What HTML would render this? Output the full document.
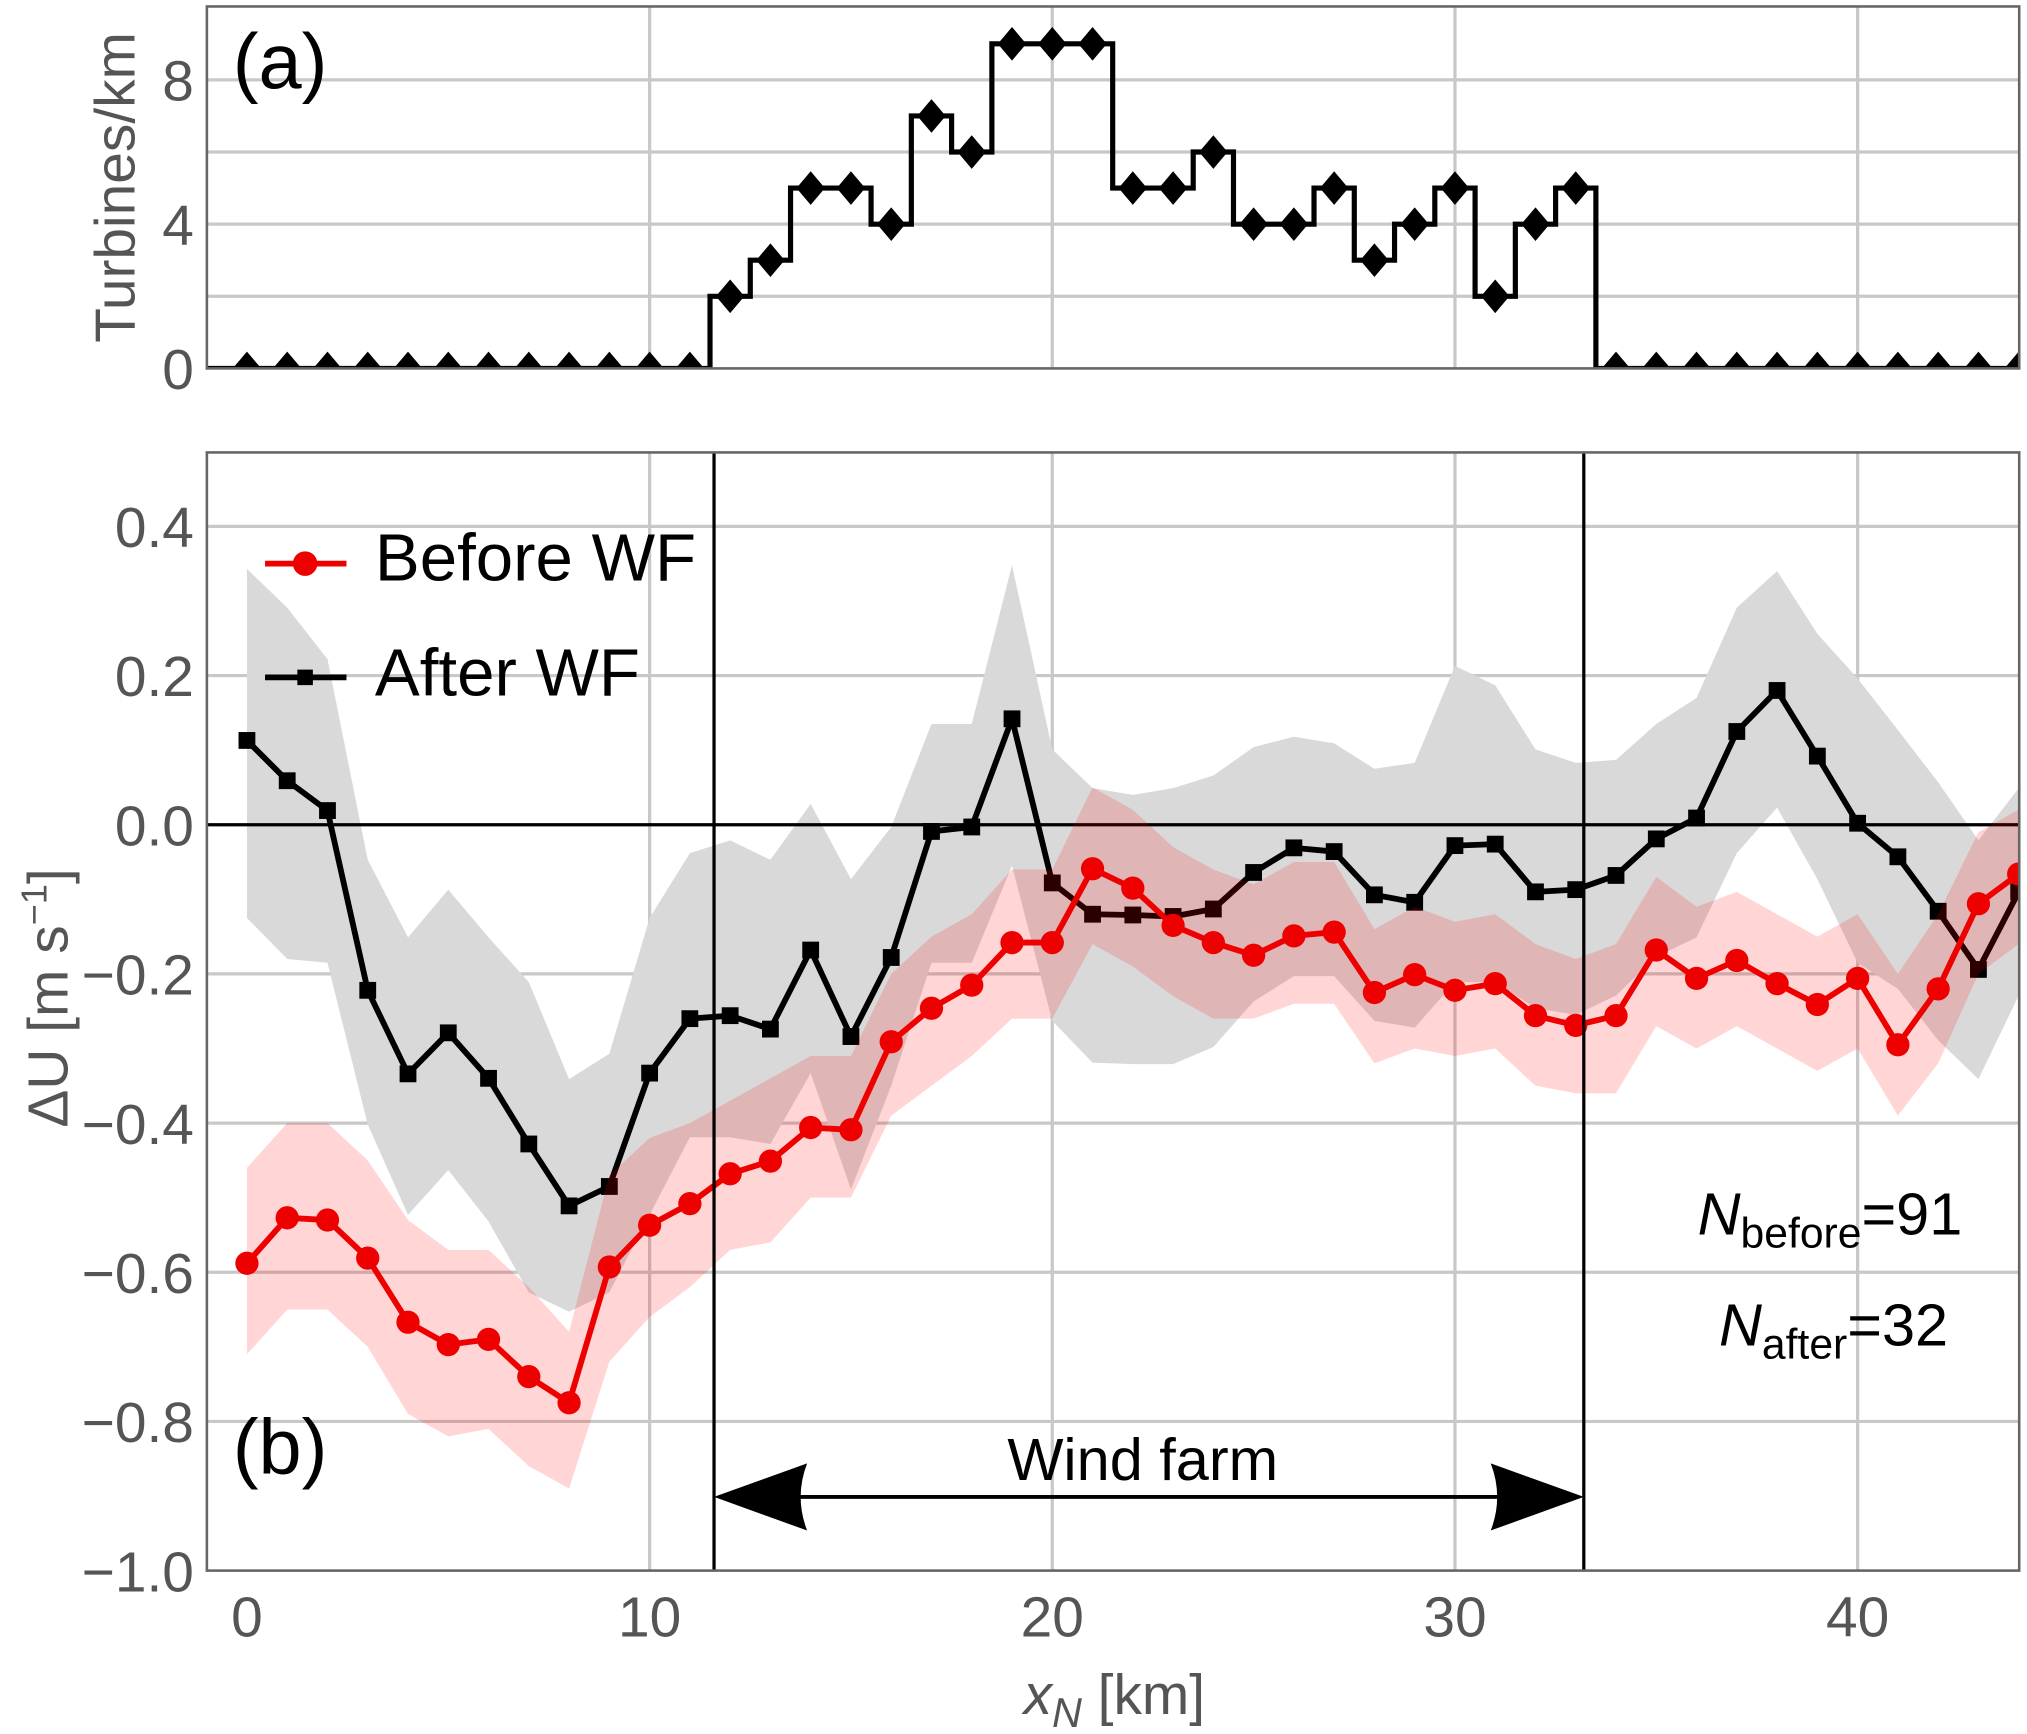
<!DOCTYPE html>
<html><head><meta charset="utf-8"><style>
html,body{margin:0;padding:0;background:#fff}
svg{display:block}
text{font-family:"Liberation Sans",Arial,sans-serif}
</style></head><body>
<svg id="chart" width="2027" height="1734" viewBox="0 0 1568 1341.4" xmlns="http://www.w3.org/2000/svg">
<g id="topPanel"></g>
<g id="botPanel"></g>
</svg>
<script>
const turbineX = [0,1,2,3,4,5,6,7,8,9,10,11,12,13,14,15,16,17,18,19,20,21,22,23,24,25,26,27,28,29,30,31,32,33,34,35,36,37,38,39,40,41,42,43,44];
const turbineDensity = [0,0,0,0,0,0,0,0,0,0,0,0,2,3,5,5,4,7,6,9,9,9,5,5,6,4,4,5,3,4,5,2,4,5,0,0,0,0,0,0,0,0,0,0,0];
const topYTicks = [0,4,8];
const xTicks = [0,10,20,30,40];
const botYTicks = [0.4,0.2,0.0,-0.2,-0.4,-0.6,-0.8,-1.0];
const botYTickLabels = ["0.4","0.2","0.0","\u22120.2","\u22120.4","\u22120.6","\u22120.8","\u22121.0"];
const afterWF = [0.113,0.059,0.019,-0.222,-0.334,-0.279,-0.340,-0.428,-0.511,-0.485,-0.333,-0.26,-0.256,-0.274,-0.168,-0.284,-0.178,-0.009,-0.003,0.142,-0.078,-0.12,-0.121,-0.123,-0.113,-0.064,-0.031,-0.036,-0.094,-0.104,-0.028,-0.026,-0.09,-0.087,-0.068,-0.019,0.009,0.125,0.18,0.092,0.002,-0.043,-0.116,-0.194,-0.09];
const afterUpper = [0.343,0.291,0.222,-0.047,-0.151,-0.087,-0.151,-0.211,-0.341,-0.307,-0.125,-0.038,-0.021,-0.047,0.028,-0.073,-0.003,0.135,0.135,0.348,0.101,0.049,0.040,0.049,0.066,0.104,0.118,0.109,0.075,0.083,0.213,0.187,0.101,0.083,0.087,0.135,0.170,0.291,0.340,0.256,0.196,0.127,0.057,-0.021,0.049];
const afterLower = [-0.125,-0.180,-0.185,-0.402,-0.523,-0.463,-0.532,-0.627,-0.653,-0.627,-0.523,-0.419,-0.419,-0.428,-0.333,-0.489,-0.350,-0.185,-0.185,-0.055,-0.263,-0.319,-0.321,-0.321,-0.298,-0.237,-0.203,-0.203,-0.263,-0.272,-0.211,-0.211,-0.246,-0.255,-0.229,-0.177,-0.151,-0.038,0.023,-0.073,-0.185,-0.220,-0.289,-0.341,-0.229];
const beforeWF = [-0.588,-0.527,-0.530,-0.581,-0.667,-0.697,-0.690,-0.740,-0.775,-0.593,-0.537,-0.508,-0.468,-0.451,-0.406,-0.409,-0.291,-0.246,-0.215,-0.158,-0.158,-0.059,-0.085,-0.135,-0.158,-0.175,-0.149,-0.144,-0.225,-0.201,-0.222,-0.213,-0.256,-0.269,-0.256,-0.168,-0.206,-0.182,-0.213,-0.241,-0.206,-0.295,-0.220,-0.106,-0.066];
const beforeUpper = [-0.46,-0.40,-0.40,-0.45,-0.53,-0.57,-0.57,-0.62,-0.68,-0.47,-0.42,-0.40,-0.37,-0.34,-0.31,-0.31,-0.20,-0.15,-0.12,-0.06,-0.06,0.05,0.02,-0.03,-0.06,-0.08,-0.05,-0.05,-0.14,-0.11,-0.13,-0.12,-0.16,-0.18,-0.16,-0.07,-0.11,-0.09,-0.12,-0.15,-0.12,-0.20,-0.12,-0.01,0.02];
const beforeLower = [-0.71,-0.65,-0.65,-0.70,-0.79,-0.82,-0.81,-0.86,-0.89,-0.72,-0.66,-0.62,-0.57,-0.56,-0.50,-0.50,-0.39,-0.35,-0.31,-0.26,-0.26,-0.16,-0.19,-0.23,-0.26,-0.26,-0.24,-0.24,-0.32,-0.30,-0.31,-0.30,-0.35,-0.36,-0.36,-0.27,-0.30,-0.27,-0.30,-0.33,-0.30,-0.39,-0.32,-0.20,-0.16];
const windFarmStart = 11.6, windFarmEnd = 33.2;

const NS='http://www.w3.org/2000/svg';
const L=160,R=1562;
const sx=x=>191+x*31.15;
const tyT=v=>285-v*27.9;
const tyB=v=>638-v*577;
function mk(parent,tag,attrs,txt){const e=document.createElementNS(NS,tag);for(const k in attrs)e.setAttribute(k,attrs[k]);if(txt!==undefined)e.textContent=txt;parent.appendChild(e);return e;}
const topG=document.getElementById('topPanel'), botG=document.getElementById('botPanel');
const defs=mk(document.getElementById('chart'),'defs',{});
const cp=mk(defs,'clipPath',{id:'cb'});mk(cp,'rect',{x:L,y:350,width:R-L,height:865});
const cpt=mk(defs,'clipPath',{id:'ct'});mk(cpt,'rect',{x:L,y:5,width:R-L,height:280});

for(const v of [2,4,6,8]){const g=mk(topG,'line',{x1:L,x2:R,y1:tyT(v),y2:tyT(v),stroke:'#c8c8c8','stroke-width':2.5});

}
for(const v of xTicks.slice(1)){const g=mk(topG,'line',{x1:sx(v),x2:sx(v),y1:5,y2:285,stroke:'#c8c8c8','stroke-width':2.5});

}
for(const v of topYTicks){const t=mk(topG,'text',{x:150,y:tyT(v)+16,'text-anchor':'end','font-size':44,fill:'#555'},String(v));

}
const yl=mk(topG,'text',{x:0,y:0,transform:'translate(104,145) rotate(-90)','text-anchor':'middle','font-size':44,fill:'#555'},'Turbines/km');


let d='';const nT=turbineX.length;turbineX.forEach((x,i)=>{const a=sx(i===0?x-1:x-0.5),b=sx(i===nT-1?x+1:x+0.5),y=tyT(turbineDensity[i]);d+=(i?'L':'M')+a+','+y+'L'+b+','+y;});
const tg=mk(topG,'g',{'clip-path':'url(#ct)'});
const st=mk(tg,'path',{d:d,fill:'none',stroke:'#000','stroke-width':4});


turbineX.forEach((x,i)=>{const cx=sx(x),cy=tyT(turbineDensity[i]);
const m=mk(tg,'polygon',{points:`${cx},${cy-13} ${cx+11},${cy} ${cx},${cy+13} ${cx-11},${cy}`,fill:'#000'});

});
const fr1=mk(topG,'rect',{x:L,y:5,width:R-L,height:280,fill:'none',stroke:'#666','stroke-width':2});


const la=mk(topG,'text',{x:180,y:68,'font-size':60,fill:'#000'},'(a)');



botYTicks.forEach((v,i)=>{if(Math.abs(v)>1e-9&&v>-0.99){const g=mk(botG,'line',{x1:L,x2:R,y1:tyB(v),y2:tyB(v),stroke:'#c8c8c8','stroke-width':2.5});

}
const t=mk(botG,'text',{x:150,y:tyB(v)+16,'text-anchor':'end','font-size':44,fill:'#555'},botYTickLabels[i]);

});
for(const v of xTicks.slice(1)){const g=mk(botG,'line',{x1:sx(v),x2:sx(v),y1:350,y2:1215,stroke:'#c8c8c8','stroke-width':2.5});

}
for(const v of xTicks){const t=mk(botG,'text',{x:sx(v),y:1266,'text-anchor':'middle','font-size':44,fill:'#555'},String(v));

}
const xl=mk(botG,'text',{x:862,y:1326,'text-anchor':'middle','font-size':44,fill:'#555'});


mk(xl,'tspan',{'font-style':'italic'},'x');mk(xl,'tspan',{'font-style':'italic','font-size':32,dy:10},'N');mk(xl,'tspan',{dy:-10},' [km]');
const yl2=mk(botG,'text',{x:0,y:0,transform:'translate(52,772) rotate(-90)','text-anchor':'middle','font-size':44,fill:'#555'});


mk(yl2,'tspan',{},'\u0394U [m s');mk(yl2,'tspan',{'font-size':28,dy:-16},'\u22121');mk(yl2,'tspan',{dy:16},']');

const g=mk(botG,'g',{'clip-path':'url(#cb)'});
function band(up,lo,fill,name){let p='';turbineX.forEach((x,i)=>p+=(i?'L':'M')+sx(x)+','+tyB(up[i]));
for(let i=turbineX.length-1;i>=0;i--)p+='L'+sx(turbineX[i])+','+tyB(lo[i]);p+='Z';
const e=mk(g,'path',{d:p,fill:fill,stroke:'none'});

}
function line(vals,col,name){const pts=turbineX.map((x,i)=>sx(x)+','+tyB(vals[i])).join(' ');
const e=mk(g,'polyline',{points:pts,fill:'none',stroke:col,'stroke-width':4.5,'stroke-linejoin':'round'});

}
band(afterUpper,afterLower,'#d9d9d9','after-wf-band');
const z=mk(g,'line',{x1:L,x2:R,y1:tyB(0),y2:tyB(0),stroke:'#000','stroke-width':2.5});


line(afterWF,'#000','after-wf-line');
turbineX.forEach((x,i)=>{const m=mk(g,'rect',{x:sx(x)-6.5,y:tyB(afterWF[i])-6.5,width:13,height:13,fill:'#000'});

});
band(beforeUpper,beforeLower,'rgba(255,0,0,0.165)','before-wf-band');
line(beforeWF,'#ee0000','before-wf-line');
turbineX.forEach((x,i)=>{const m=mk(g,'circle',{cx:sx(x),cy:tyB(beforeWF[i]),r:9,fill:'#ee0000'});

});
for(const v of [windFarmStart,windFarmEnd]){const e=mk(botG,'line',{x1:sx(v),x2:sx(v),y1:350,y2:1215,stroke:'#000','stroke-width':2.5});

}
const a1=sx(windFarmStart),a2=sx(windFarmEnd),ay=1158;
const ar=mk(botG,'line',{x1:a1+60,x2:a2-60,y1:ay,y2:ay,stroke:'#000','stroke-width':3});


const h1=mk(botG,'path',{d:`M${a1},${ay} L${a1+72},${ay-26} Q${a1+62},${ay} ${a1+72},${ay+26} Z`,fill:'#000'});


const h2=mk(botG,'path',{d:`M${a2},${ay} L${a2-72},${ay-26} Q${a2-62},${ay} ${a2-72},${ay+26} Z`,fill:'#000'});


const wf=mk(botG,'text',{x:884,y:1145,'text-anchor':'middle','font-size':46,fill:'#000'},'Wind farm');


const lg=mk(botG,'g',{});


mk(lg,'line',{x1:205,x2:268,y1:436,y2:436,stroke:'#ee0000','stroke-width':4.5});
mk(lg,'circle',{cx:236,cy:436,r:9.5,fill:'#ee0000'});
const t1=mk(lg,'text',{x:290,y:449,'font-size':52,fill:'#000'},'Before WF');


mk(lg,'line',{x1:205,x2:268,y1:524,y2:524,stroke:'#000','stroke-width':4.5});
mk(lg,'rect',{x:230,y:518,width:12,height:12,fill:'#000'});
const t2=mk(lg,'text',{x:290,y:538,'font-size':52,fill:'#000'},'After WF');


const n1=mk(botG,'text',{x:1518,y:955,'text-anchor':'end','font-size':46,fill:'#000'});


mk(n1,'tspan',{'font-style':'italic'},'N');mk(n1,'tspan',{'font-size':33,dy:10},'before');mk(n1,'tspan',{dy:-10},'=91');
const n2=mk(botG,'text',{x:1507,y:1041,'text-anchor':'end','font-size':46,fill:'#000'});


mk(n2,'tspan',{'font-style':'italic'},'N');mk(n2,'tspan',{'font-size':33,dy:10},'after');mk(n2,'tspan',{dy:-10},'=32');
const lb=mk(botG,'text',{x:180,y:1140,'font-size':60,fill:'#000'},'(b)');


const fr2=mk(botG,'rect',{x:L,y:350,width:R-L,height:865,fill:'none',stroke:'#666','stroke-width':2});


</script>
</body></html>
